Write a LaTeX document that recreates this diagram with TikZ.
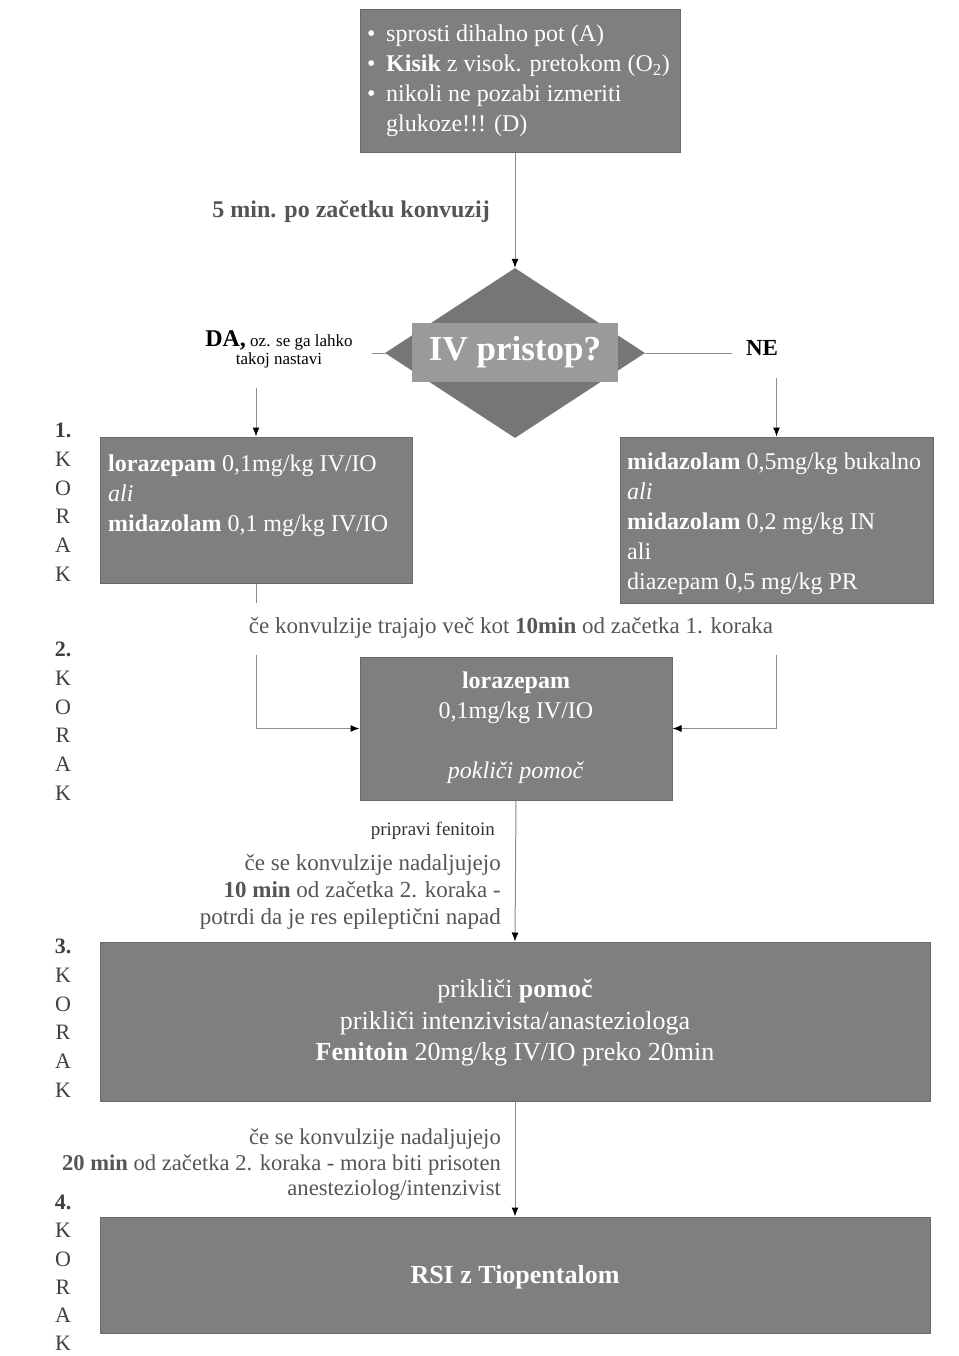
\documentclass[tikz,border=0pt]{standalone}
\usepackage{fontspec}
\setmainfont{Liberation Serif}
\usetikzlibrary{arrows.meta,shapes.geometric,calc}
\definecolor{boxgray}{HTML}{7F7F7F}
\definecolor{boxedge}{HTML}{6A6A6A}
\definecolor{diagray}{HTML}{767676}
\definecolor{innergray}{HTML}{9A9A9A}
\definecolor{linegray}{HTML}{8C8C8C}
\definecolor{labgray}{HTML}{555555}
\definecolor{steplab}{HTML}{404040}
\begin{document}
\begin{tikzpicture}[x=1pt,y=-1pt,
  box/.style={draw=boxedge, line width=1pt, fill=boxgray, inner sep=0pt},
  boxtext/.style={text=white, inner sep=0pt, font=\fontsize{24}{30}\selectfont},
  bigtext/.style={text=white, inner sep=0pt, font=\fontsize{26}{31.5}\selectfont},
  conn/.style={draw=linegray, line width=1pt},
  arr/.style={conn, -{Latex[length=9pt,width=7pt,color=black]}},
  lab/.style={text=labgray, inner sep=0pt, font=\fontsize{23}{27}\selectfont},
  steplabel/.style={text=steplab, inner sep=0pt, align=center, font=\fontsize{22}{28.7}\selectfont}
]
\useasboundingbox (0,0) rectangle (958,1356);

% top box
\node[box, minimum width=320pt, minimum height=143pt] (top) at (520,81.5) {};
\node[boxtext, anchor=north west, align=left] (toptxt) at (367,25) {%
\makebox[19pt][l]{\textbullet}sprosti dihalno pot (A)\\
\makebox[19pt][l]{\textbullet}\textbf{Kisik} z visok. pretokom (O\textsubscript{2})\\
\makebox[19pt][l]{\textbullet}nikoli ne pozabi izmeriti\\
\makebox[19pt][l]{}glukoze!!! (D)};

\node[lab, font=\bfseries\fontsize{24}{27}\selectfont, anchor=east] (l5) at (490,212) {5 min. po začetku konvuzij};

% diamond
\node[diamond, fill=diagray, minimum width=260pt, minimum height=170pt, aspect=1.53, inner sep=0pt] (dia) at (515,353) {};
\node[fill=innergray, minimum width=206pt, minimum height=59pt, inner sep=0pt, text=white, font=\bfseries\fontsize{35}{40}\selectfont] (q) at (515,352) {IV pristop?};

\draw[arr] (top.south -| dia.north) -- (dia.north);

\coordinate (dal) at (372,353);
\coordinate (ner) at (732,353);
\draw[conn] (dia.west) -- (dal);
\draw[conn] (dia.east) -- (ner);

\node[inner sep=0pt, align=center, text=black, font=\fontsize{17}{18}\selectfont] (da) at (279,349) {{\fontsize{24}{22}\selectfont\bfseries DA,} oz. se ga lahko\\takoj nastavi};
\node[inner sep=0pt, text=black, font=\bfseries\fontsize{23}{26}\selectfont] (ne) at (762,348) {NE};

% step 1 boxes
\node[box, minimum width=312pt, minimum height=146pt] (b1) at (256,510) {};
\node[box, minimum width=313pt, minimum height=166pt] (b1r) at (776.5,520) {};
\node[boxtext, anchor=north west, align=left] at (108,455) {%
\textbf{lorazepam} 0,1mg/kg IV/IO\\
\textit{ali}\\
\textbf{midazolam} 0,1 mg/kg IV/IO};
\node[boxtext, anchor=north west, align=left] at (627,453) {%
\textbf{midazolam} 0,5mg/kg bukalno\\
\textit{ali}\\
\textbf{midazolam} 0,2 mg/kg IN\\
ali\\
diazepam 0,5 mg/kg PR};

\coordinate (das) at (256,388);
\coordinate (nes) at (776.5,378);
\draw[arr] (das) -- (b1.north);
\draw[arr] (nes) -- (b1r.north);

\node[lab] (l10) at (511,628) {če konvulzije trajajo več kot \textbf{10min} od začetka 1. koraka};

% step 2
\node[box, minimum width=312pt, minimum height=143pt] (b2) at (516,728.5) {};
\node[boxtext, align=center] at (516,698) {\textbf{lorazepam}\\0,1mg/kg IV/IO};
\node[boxtext] at (516,773) {\textit{pokliči pomoč}};

\coordinate (ls) at (256,603);
\coordinate (lr) at (256,655);
\coordinate (rr) at (776.5,655);
\draw[conn] (b1.south) -- (ls);
\draw[arr] (lr) |- (b2.west);
\draw[arr] (rr) |- (b2.east);

\node[inner sep=0pt, anchor=east, text=black!80, font=\fontsize{19}{20}\selectfont] (pf) at (495,831) {pripravi fenitoin};
\node[lab, anchor=north east, align=right] (l2) at (501,854) {če se konvulzije nadaljujejo\\\textbf{10 min} od začetka 2. koraka -\\potrdi da je res epileptični napad};

% step 3
\node[box, minimum width=830pt, minimum height=159pt] (b3) at (515,1021.5) {};
\node[bigtext, align=center] at (515,1023) {prikliči \textbf{pomoč}\\prikliči intenzivista/anasteziologa\\\textbf{Fenitoin} 20mg/kg IV/IO preko 20min};
\draw[arr] (b2.south) -- (b3.north);

\node[lab, anchor=north east, align=right, font=\fontsize{22.6}{25.5}\selectfont] (l3) at (501,1129) {če se konvulzije nadaljujejo\\\textbf{20 min} od začetka 2. koraka - mora biti prisoten\\anesteziolog/intenzivist};

% step 4
\node[box, minimum width=830pt, minimum height=116pt] (b4) at (515,1275) {};
\node[bigtext, font=\bfseries\fontsize{26}{30}\selectfont] at (515,1277) {RSI z Tiopentalom};
\draw[arr] (b3.south) -- (b4.north);

% step labels
\node[steplabel, anchor=north] (s1) at (63,423) {\textbf{1.}\\K\\O\\R\\A\\K};
\node[steplabel, anchor=north] (s2) at (63,642) {\textbf{2.}\\K\\O\\R\\A\\K};
\node[steplabel, anchor=north] (s3) at (63,939) {\textbf{3.}\\K\\O\\R\\A\\K};
\node[steplabel, anchor=north, font=\fontsize{22}{28.2}\selectfont] (s4) at (63,1195) {\textbf{4.}\\K\\O\\R\\A\\K};
\end{tikzpicture}
\end{document}
